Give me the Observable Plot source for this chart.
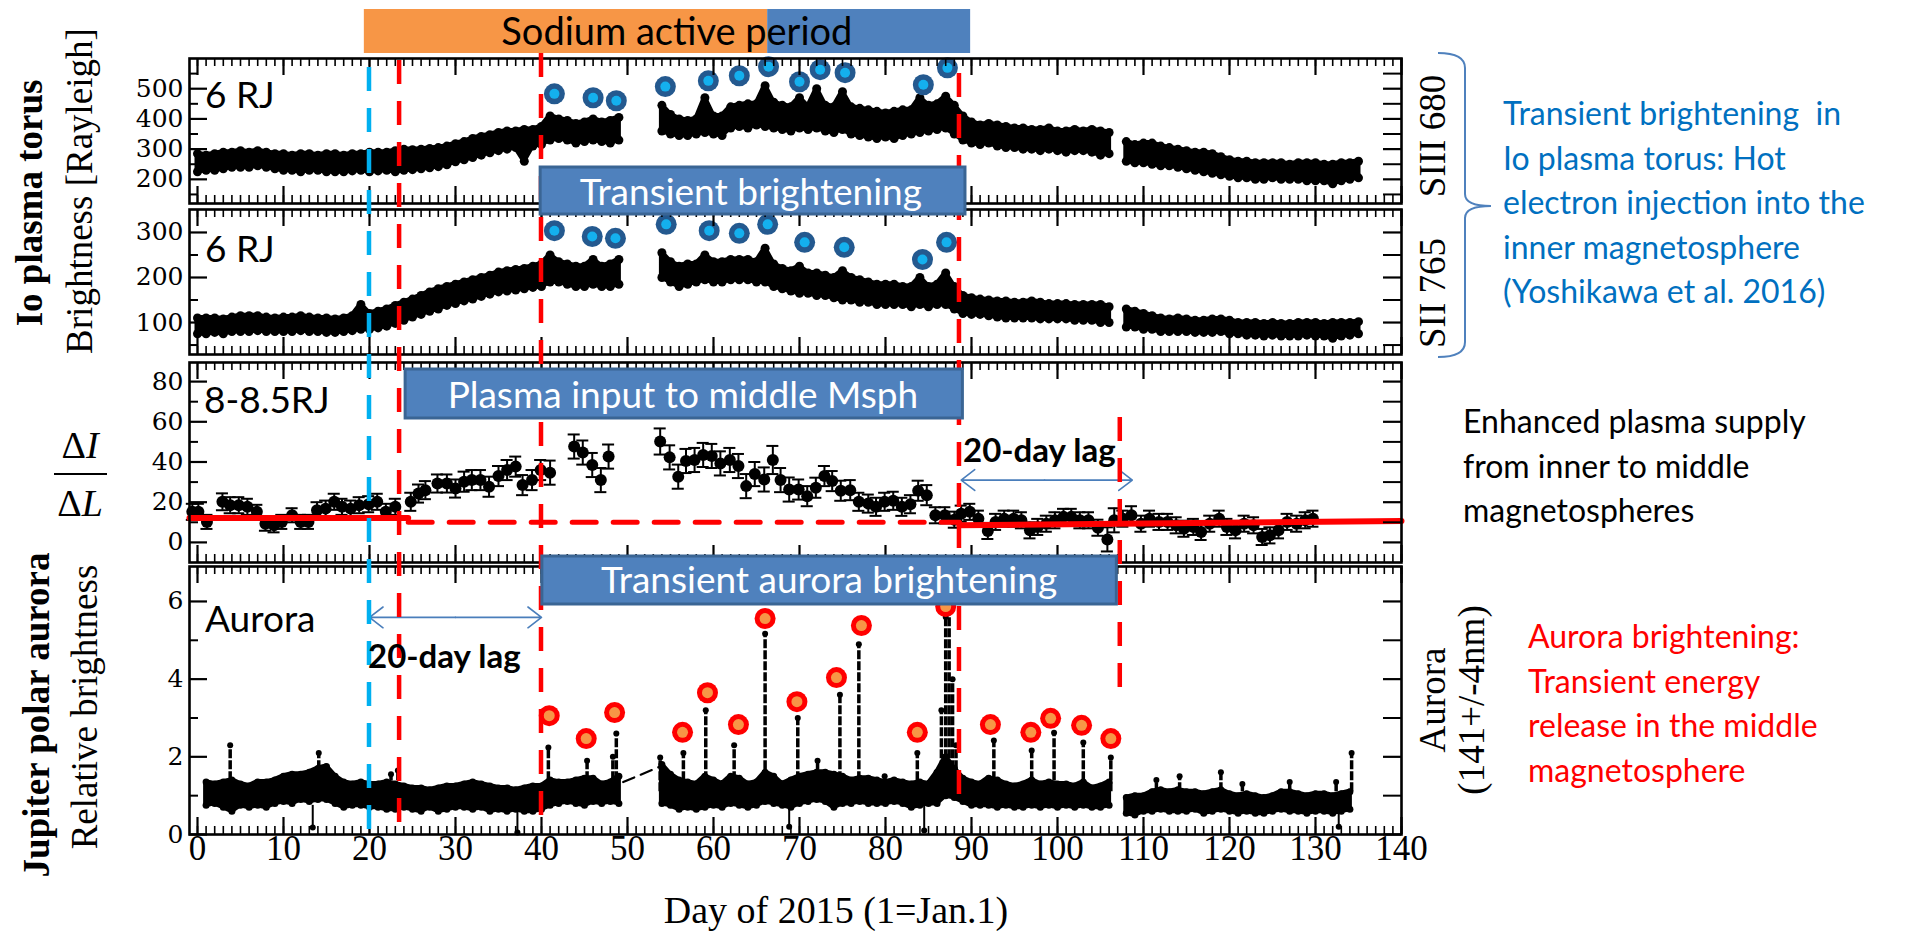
<!DOCTYPE html>
<html><head><meta charset="utf-8">
<script src="https://cdn.jsdelivr.net/npm/d3@7"></script>
<script src="https://cdn.jsdelivr.net/npm/@observablehq/plot@0.6"></script>
<style>
html,body{margin:0;padding:0;background:#fff;}
#root{position:relative;width:1917px;height:931px;overflow:hidden;background:#fff;}
#root svg{position:absolute;left:0;overflow:visible;}
</style></head><body><div id="root"></div>
<script>
// ---------------- DATA ----------------
// Panel 1: SIII 680 brightness envelope per day (day = index 0..135), null = no data
const p1Lo = [225,230,230,235,240,240,240,245,240,235, 230,230,225,230,230,225,225,225,228,230,
  225,228,230,225,230,232,235,238,242,248, 258,265,272,280,288,295,300,305,260,310,
  315,330,335,330,320,325,330,325,320,330, null,null,null,null, 360,350,345,345,350,355,
  350,345,370,375,370,380,375,370,365,360, 370,365,370,360,355,365,350,345,340,335,
  340,335,345,350,355,360,365,370,350,330, 320,315,320,310,305,305,300,300,295,300,
  295,290,295,295,290,280,285,null, 260,255,255,250,245,245,240,235,230,225,220,215,
  210,205,205,200,200,205,200,200,200,195, 195,195,185,195,200,205];
const p1Hi = [285,280,285,290,290,295,290,295,290,285, 285,280,285,285,280,285,285,280,285,285,
  290,290,290,295,300,298,300,302,305,310, 318,325,335,342,348,355,360,360,365,365,
  375,410,400,395,385,390,400,390,395,405, null,null,null,null, 445,415,400,395,400,470,
  410,410,440,445,450,450,510,455,445,440, 470,440,500,445,440,490,440,435,430,425,
  420,425,430,430,470,445,450,475,445,410, 390,380,385,380,375,370,370,365,365,370,
  360,360,365,360,365,360,355,null, 325,315,320,320,310,305,300,295,290,290,285,275,
  265,260,260,255,255,255,255,250,255,255, 255,250,250,255,255,260];
// Panel 2: SII 765
const p2Lo = [75,75,78,75,80,80,80,82,80,80, 80,80,82,80,80,78,78,80,82,85,
  85,88,92,98,105,112,118,125,130,138, 142,148,152,158,163,168,170,172,175,178,
  180,190,190,185,180,180,185,180,180,185, null,null,null,null, 200,190,180,185,190,195,
  190,190,195,195,195,190,190,180,175,170, 165,165,160,160,155,150,150,145,145,140,
  140,140,140,135,140,135,140,140,130,120, 118,118,115,112,110,110,110,110,108,108,
  108,108,105,105,105,100,100,null, 90,90,85,85,80,80,80,80,78,78,78,80,
  75,75,72,72,70,72,70,70,70,72, 70,70,65,70,72,75];
const p2Hi = [110,110,110,108,112,115,115,115,112,110, 112,112,115,112,110,110,108,110,115,140,
  120,125,130,138,145,152,160,168,175,180, 185,190,195,200,205,212,215,218,220,225,
  230,250,235,230,225,225,240,225,230,240, null,null,null,null, 255,235,225,230,230,250,
  235,235,240,240,240,235,265,230,220,215, 225,210,210,205,200,215,200,195,190,185,
  185,185,180,180,200,180,185,210,180,160, 155,152,150,148,148,145,145,148,145,142,
  142,142,140,140,140,140,135,null, 130,125,120,115,110,108,110,108,105,105,108,108,
  105,100,100,100,98,100,98,98,100,100, 100,98,100,100,100,102];
// Transient brightening markers
const mk1Day = [41.5,46.0,48.7,54.4,59.4,63.0,66.4,70.0,72.4,75.3,84.4,87.2];
const mk1Val = [483,470,460,507,526,543,573,523,563,553,513,569];
const mk2Day = [41.5,45.9,48.6,54.5,59.5,63.0,66.3,70.6,75.2,84.3,87.1];
const mk2Val = [304,291,287,318,304,298,318,278,267,240,278];
// Panel 3: |dI/dL| at 8-8.5 RJ with error bars
const p3Day = [-0.6,0.1,1.1,2.9,3.8,4.8,5.8,6.9,7.9,8.9,9.8,11.0,12.0,12.9,13.9,14.9,15.9,16.8,17.8,18.8,19.9,20.9,21.9,23.0,
  24.8,25.7,26.5,27.9,29.0,30.0,31.0,31.9,32.9,33.9,35.0,36.0,37.0,37.8,38.9,39.9,41.0,43.8,44.8,45.9,46.9,47.8,
  53.8,54.9,55.9,56.8,57.8,58.8,59.8,60.8,61.9,62.9,63.8,64.8,65.9,66.9,67.8,68.8,69.9,70.9,71.9,72.9,73.8,74.8,75.9,
  76.9,78.0,78.9,79.9,80.9,81.9,82.9,83.8,84.8,85.8,86.9,88.0,88.8,89.8,90.8,91.9,92.8,93.8,94.9,95.8,96.8,97.7,98.7,
  99.7,100.7,101.6,102.6,103.6,104.7,105.8,106.6,107.6,108.6,109.7,110.7,111.8,112.8,113.8,114.7,115.8,116.7,117.7,
  118.8,119.7,120.7,121.7,122.8,123.8,124.7,125.7,126.7,127.8,128.8,129.7];
const p3Val = [15.2,15.2,10.2,20.2,18.5,18.5,17.7,15.2,9.3,8.5,10.2,13.5,10.2,10.2,16.0,16.8,20.2,17.7,16.8,18.5,19.0,20.2,15.2,17.7,
  20.2,24.3,26.0,29.3,29.3,26.8,30.2,31.0,31.0,27.7,33.0,36.0,37.7,28.5,31.0,36.0,34.7,47.7,44.7,38.5,31.0,42.7,
  50.2,42.3,32.7,40.5,41.0,43.5,43.0,39.3,41.0,38.0,28.0,34.0,31.3,41.0,31.0,26.3,26.3,23.0,27.2,33.0,30.5,25.7,26.0,
  20.2,19.3,17.7,20.2,20.7,17.7,19.0,25.7,23.5,13.5,13.5,11.3,14.3,15.2,11.8,5.7,10.2,11.8,11.8,11.0,6.0,7.7,9.3,
  11.0,12.7,12.7,11.0,11.0,7.3,1.5,11.0,11.8,13.5,9.3,11.8,10.2,10.2,8.5,6.8,7.7,5.2,9.3,
  11.8,7.7,6.0,9.3,8.5,2.7,3.5,6.0,10.2,9.3,11.0,11.8];
const p3Err = [4,4,3.5,4.2,4,4,4,3.5,3.5,3.5,3.5,3.5,3.5,3.5,4,4,4,4,4,4,4,4,4,4,
  4.5,4.5,4.5,4.5,4.5,4.5,5,5,5,5,5,5,5,5,5,5,6,6,6,6,6,6,
  6.5,6,6,6,6,6,6,6,6,6,6,6,6,7,6,6,5,5,5,5,5,5,5,
  4.5,4.5,4.5,4.5,4.5,4.5,4.5,5,5,4,4,4,4,4,4,4,4,4,4,4,4,4,4,
  4,4,4,4,4,4,6,6,4,4.5,4,4,4,4,4,4,4,4,4,
  4,4,4,4,4,4,4,4,4,4,4,4];
// Red reference fits (day, value)
const fitA = [[-0.93,12.2],[24.5,12.2]];
const fitB = [[24.5,10],[88.6,10]];
const fitC = [[88.6,8.5],[140,10.7]];
// Panel 4: aurora relative brightness envelope per day (index = day 0..134)
const p4Lo = [null,0.75,0.8,0.7,0.6,0.75,0.7,0.75,0.7,0.8, 0.85,0.8,0.9,0.85,0.9,0.9,0.8,0.7,0.75,0.75,
  0.7,0.7,0.65,0.65,0.7,0.65,0.6,0.7,0.6,0.65, 0.7,0.7,0.65,0.7,0.6,0.65,0.6,0.65,0.6,0.6,
  0.65,0.75,0.8,0.85,0.8,0.75,0.85,0.8,0.85,0.8, null,null,null,null, 0.8,0.75,0.65,0.7,0.65,0.7,
  0.75,0.7,0.8,0.75,0.7,0.75,0.85,0.8,0.75,0.7, 0.8,0.85,0.9,0.85,0.7,0.8,0.8,0.85,0.8,0.8,
  0.8,0.85,0.8,0.7,0.75,0.8,0.8,1.0,0.95,0.85, 0.75,0.75,0.75,0.7,0.75,0.7,0.7,0.75,0.7,0.75,
  0.7,0.75,0.7,0.75,0.7,0.7,0.75,null, 0.55,0.5,0.6,0.6,0.65,0.6,0.6,0.6,0.65,0.55,0.6,0.65,
  0.6,0.55,0.6,0.55,0.55,0.6,0.65,0.6,0.6,0.55, 0.6,0.6,0.55,0.6,0.65];
const p4Hi = [null,1.35,1.3,1.35,1.4,1.3,1.25,1.35,1.35,1.4, 1.5,1.55,1.55,1.6,1.7,1.75,1.5,1.35,1.3,1.35,
  1.3,1.3,1.35,1.3,1.25,1.2,1.2,1.15,1.2,1.25, 1.25,1.3,1.35,1.3,1.25,1.2,1.2,1.15,1.2,1.25,
  1.25,1.4,1.35,1.35,1.4,1.45,1.45,1.3,1.35,1.5, null,null,null,null, 1.8,1.55,1.4,1.35,1.3,1.5,
  1.4,1.3,1.5,1.45,1.3,1.35,1.6,1.5,1.3,1.4, 1.5,1.55,1.6,1.6,1.55,1.5,1.4,1.45,1.45,1.4,
  1.35,1.4,1.35,1.3,1.35,1.3,1.6,2.0,1.7,1.45, 1.35,1.3,1.45,1.4,1.3,1.25,1.3,1.4,1.3,1.35,
  1.3,1.3,1.25,1.35,1.2,1.25,1.35,null, 0.95,1.0,1.0,1.1,1.15,1.1,1.15,1.1,1.1,1.05,1.1,1.15,
  1.05,1.0,1.05,1.0,0.95,1.0,1.1,1.1,1.05,1.0, 1.05,1.05,1.0,1.05,1.1];
const spikeDay  = [3.8,14.1,22.5,23.3,40.8,45.3,48.3,48.7,53.8,56.5,59.1,62.4,66.0,69.8,72.1,74.7,76.9,79.9,83.7,
  86.5,87.0,87.4,87.8,88.2,92.6,97.0,99.6,103.0,106.2,111.5,114.2,119.0,121.5,127.0,132.4,134.2];
const spikePeak = [2.3,2.1,1.55,1.65,2.24,1.9,2.0,2.6,1.98,2.1,3.2,2.3,5.17,3.0,1.9,3.6,4.9,1.5,2.1,
  3.2,5.6,5.8,4.0,2.3,2.42,2.16,2.62,2.37,1.98,1.4,1.5,1.6,1.3,1.35,1.35,2.1];
const dropDay = [13.4,37.2,68.8,84.5,132.7];
const dropVal = [0.18,0.05,0.2,0.1,0.2];
const gapLink = [[49.5,1.35],[53.8,1.75]];
const mk4Day = [40.9,45.2,48.5,56.4,59.3,62.9,66.0,69.7,74.3,77.2,83.7,87.0,92.2,96.9,99.2,102.8,106.2];
const mk4Val = [3.06,2.47,3.14,2.63,3.65,2.83,5.56,3.42,4.04,5.38,2.63,5.87,2.83,2.63,2.99,2.81,2.47];
// event days
const blueLineDay = 20;
const redLineDays = [23.5, 40, 88.6, 107.3];
const lag3 = {from: 88.8, mid: 98.5, to: 108.7, v: 31};
const lag4 = {from: 20, mid: 30, to: 40, v: 5.59};
const xTickLabels = [0,10,20,30,40,50,60,70,80,90,100,110,120,130,140];
const p1Ticks = [200,300,400,500], p1Minor = [150,250,350,450,550];
const p2Ticks = [100,200,300], p2Minor = [50,150,250];
const p3Ticks = [0,20,40,60,80], p3Minor = [10,30,50,70];
const p4Ticks = [0,2,4,6], p4Minor = [1,3,5];

// ---------------- BUILD ----------------
const root = document.getElementById("root");
const W = 1917, FL = 189, FR = 1401, FW = FR - FL;
const xDomain = [-0.93, 140];
const dayMinor = d3.range(0, 141), dayMajor = d3.range(0, 141, 10);
const envAll = (lo, hi) => lo.map((l, i) => ({day: i, lo: l == null ? NaN : l, hi: hi[i] == null ? NaN : hi[i]}));
const env = (lo, hi) => envAll(lo, hi).filter(d => !isNaN(d.lo));
const pts = (ds, vs) => ds.map((d, i) => ({day: d, v: vs[i]}));

function panel({top, bottom, yDomain, yMajor, yMinor, marks, bottomLabels}) {
  const H = bottom - top, mt = 20, mb = bottomLabels ? 60 : 20;
  const tk = {stroke: "#000"};
  const m = [
    ...marks,
    Plot.ruleX(dayMinor, {x: d => d, insetBottom: H - 8, ...tk, strokeWidth: 1.6}),
    Plot.ruleX(dayMajor, {x: d => d, insetBottom: H - 17, ...tk, strokeWidth: 2.2}),
    Plot.ruleX(dayMinor, {x: d => d, insetTop: H - 8, ...tk, strokeWidth: 1.6}),
    Plot.ruleX(dayMajor, {x: d => d, insetTop: H - 17, ...tk, strokeWidth: 2.2}),
    Plot.ruleY(yMinor, {y: d => d, insetRight: FW - 9, ...tk, strokeWidth: 2}),
    Plot.ruleY(yMajor, {y: d => d, insetRight: FW - 18, ...tk, strokeWidth: 2.2}),
    Plot.ruleY(yMinor, {y: d => d, insetLeft: FW - 18, ...tk, strokeWidth: 2}),
    Plot.ruleY(yMajor, {y: d => d, insetLeft: FW - 18, ...tk, strokeWidth: 2.2}),
    Plot.frame({stroke: "#000", strokeWidth: 2.6}),
    Plot.text(yMajor, {y: d => d, text: d => String(d), frameAnchor: "left", dx: -6, textAnchor: "end",
      fontSize: 25, fontFamily: "DejaVu Serif", fill: "#000"})
  ];
  if (bottomLabels) m.push(Plot.text(bottomLabels, {x: d => d, text: d => String(d), frameAnchor: "bottom",
      dy: 25, fontSize: 35, fontFamily: "Liberation Serif", fill: "#000"}));
  const plot = Plot.plot({
    width: W, height: H + mt + mb, marginLeft: FL, marginRight: W - FR, marginTop: mt, marginBottom: mb,
    x: {domain: xDomain, axis: null}, y: {domain: yDomain, axis: null},
    style: {background: "transparent", overflow: "visible", fontFamily: "Liberation Serif"},
    marks: m
  });
  plot.style.top = (top - mt) + "px";
  root.appendChild(plot);
  return plot;
}

// dense band: filled envelope + edge dots for a speckled look
const band = (lo, hi, dotR) => {
  const all = envAll(lo, hi), ok = env(lo, hi);
  return [
    Plot.areaY(all, {x: "day", y1: "lo", y2: "hi", fill: "#000", stroke: "#000", strokeWidth: 5, strokeLinejoin: "round"}),
    Plot.dot(ok, {x: "day", y: "lo", r: dotR, fill: "#000"}),
    Plot.dot(ok, {x: "day", y: "hi", r: dotR, fill: "#000"})
  ];
};
const blueMk = data => [Plot.dot(data, {x: "day", y: "v", r: 10.5, fill: "#24598F"}),
                        Plot.dot(data, {x: "day", y: "v", r: 5, fill: "#14B0EE"})];
const redMk = data => [Plot.dot(data, {x: "day", y: "v", r: 10.5, fill: "#FF0000"}),
                       Plot.dot(data, {x: "day", y: "v", r: 5.5, fill: "#F79646"})];
const lagArrows = (a) => Plot.arrow([{x1: a.mid, x2: a.from}, {x1: a.mid, x2: a.to}],
  {x1: "x1", x2: "x2", y1: () => a.v, y2: () => a.v, stroke: "#4A7EBB", strokeWidth: 1.6, headLength: 16, headAngle: 75});

panel({top: 58, bottom: 203, yDomain: [120, 600], yMajor: p1Ticks, yMinor: p1Minor,
  marks: [...band(p1Lo, p1Hi, 4.5), ...blueMk(pts(mk1Day, mk1Val))]});
panel({top: 209, bottom: 354, yDomain: [29, 351], yMajor: p2Ticks, yMinor: p2Minor,
  marks: [...band(p2Lo, p2Hi, 4.5), ...blueMk(pts(mk2Day, mk2Val))]});
const p3 = p3Day.map((d, i) => ({day: d, v: p3Val[i], e: p3Err[i]}));
panel({top: 362, bottom: 562, yDomain: [-10, 89.5], yMajor: p3Ticks, yMinor: p3Minor,
  marks: [
    Plot.ruleX(p3, {x: "day", y1: d => d.v - d.e, y2: d => d.v + d.e, stroke: "#000", strokeWidth: 2}),
    Plot.ruleY(p3, {y: d => d.v + d.e, x1: d => d.day - 0.7, x2: d => d.day + 0.7, stroke: "#000", strokeWidth: 2}),
    Plot.ruleY(p3, {y: d => d.v - d.e, x1: d => d.day - 0.7, x2: d => d.day + 0.7, stroke: "#000", strokeWidth: 2}),
    Plot.dot(p3, {x: "day", y: "v", r: 6, fill: "#000"}),
    Plot.line(fitA, {stroke: "#FF0000", strokeWidth: 6}),
    Plot.line(fitB, {stroke: "#FF0000", strokeWidth: 5, strokeDasharray: "24,17"}),
    Plot.line(fitC, {stroke: "#FF0000", strokeWidth: 6}),
    lagArrows(lag3)
  ]});
const spikes = spikeDay.map((d, i) => ({day: d, v: spikePeak[i]}));
const drops = dropDay.map((d, i) => ({day: d, v: dropVal[i]}));
const p4 = panel({top: 566, bottom: 834, yDomain: [0, 6.9], yMajor: p4Ticks, yMinor: p4Minor, bottomLabels: xTickLabels,
  marks: [
    ...band(p4Lo, p4Hi, 3.5),
    Plot.ruleX(spikes, {x: "day", y1: () => 1.1, y2: "v", stroke: "#000", strokeWidth: 3.5, strokeDasharray: "9,2"}),
    Plot.dot(spikes, {x: "day", y: "v", r: 3, fill: "#000"}),
    Plot.ruleX(drops, {x: "day", y1: () => 0.75, y2: "v", stroke: "#000", strokeWidth: 2}),
    Plot.dot(drops, {x: "day", y: "v", r: 3, fill: "#000"}),
    Plot.line(gapLink, {stroke: "#000", strokeWidth: 2.2, strokeDasharray: "12,7"}),
    lagArrows(lag4),
    ...redMk(pts(mk4Day, mk4Val))
  ]});

// ---------------- OVERLAY ANNOTATIONS ----------------
const xs = p4.scale("x");
const X = d => xs.apply(d);
const ov = d3.select(root).append("svg").attr("width", W).attr("height", 931).style("top", "0px");
const dash = "24,17";
ov.append("line").attr("x1", X(blueLineDay)).attr("x2", X(blueLineDay)).attr("y1", 67).attr("y2", 834)
  .attr("stroke", "#00B0F0").attr("stroke-width", 4.5).attr("stroke-dasharray", dash);
const redExt = [[60, 830], [53, 822], [73, 810], [417, 690]];
redLineDays.forEach((d, i) => ov.append("line").attr("x1", X(d)).attr("x2", X(d))
  .attr("y1", redExt[i][0]).attr("y2", redExt[i][1])
  .attr("stroke", "#FF0000").attr("stroke-width", 4.5).attr("stroke-dasharray", dash));

const LATO = "Lato, 'Open Sans', sans-serif", SERIF = "'Liberation Serif', 'Times New Roman', serif";
function text(x, y, s, o = {}) {
  const t = ov.append("text").attr("x", x).attr("y", y).text(s)
    .attr("font-family", o.family || LATO).attr("font-size", o.size || 32)
    .attr("fill", o.fill || "#000").attr("text-anchor", o.anchor || "start")
    .style("white-space", "pre");
  if (o.weight) t.attr("font-weight", o.weight);
  return t;
}
function rtext(x, y, s, o = {}) {
  const g = ov.append("g").attr("transform", `translate(${x},${y}) rotate(-90)`);
  const t = g.append("text").text(s).attr("text-anchor", "middle")
    .attr("font-family", o.family || SERIF).attr("font-size", o.size || 37).attr("fill", "#000");
  if (o.weight) t.attr("font-weight", o.weight);
  return t;
}
function box(d0, d1, y0, y1, label, cx, base) {
  ov.append("rect").attr("x", X(d0)).attr("y", y0).attr("width", X(d1) - X(d0)).attr("height", y1 - y0)
    .attr("fill", "#4F81BD").attr("stroke", "#3A6594").attr("stroke-width", 3);
  text(X(cx), base, label, {size: 37, fill: "#fff", anchor: "middle"});
}
// Sodium active period bar
ov.append("rect").attr("x", X(19.4)).attr("y", 9).attr("width", X(66.3) - X(19.4)).attr("height", 44).attr("fill", "#F79646");
ov.append("rect").attr("x", X(66.3)).attr("y", 9).attr("width", X(89.9) - X(66.3)).attr("height", 44).attr("fill", "#4F81BD");
text(X(55.8), 45, "Sodium active period", {size: 38, anchor: "middle"});
box(39.9, 89.3, 167, 214, "Transient brightening", 64.4, 205);
box(24.2, 89.0, 369, 418, "Plasma input to middle Msph", 56.5, 408);
box(40.1, 106.9, 556, 604, "Transient aurora brightening", 73.5, 593);

// in-panel labels
text(205, 108, "6 RJ", {size: 37});
text(205, 262, "6 RJ", {size: 37});
text(204, 413, "8-8.5RJ", {size: 37});
text(205, 632, "Aurora", {size: 37});
text(963, 462, "20-day lag", {size: 33, weight: 700});
text(368, 668, "20-day lag", {size: 33, weight: 700});

// left axis titles
rtext(42, 203, "Io plasma torus", {weight: 700});
rtext(92, 191, "Brightness [Rayleigh]");
rtext(49, 715, "Jupiter polar aurora", {weight: 700});
rtext(97, 707, "Relative brightness");
const fr = ov.append("text").attr("x", 80).attr("y", 458).attr("text-anchor", "middle")
  .attr("font-family", SERIF).attr("font-size", 38);
fr.append("tspan").text("Δ"); fr.append("tspan").attr("font-style", "italic").text("I");
ov.append("line").attr("x1", 54).attr("x2", 107).attr("y1", 474).attr("y2", 474).attr("stroke", "#000").attr("stroke-width", 2);
const fl = ov.append("text").attr("x", 80).attr("y", 516).attr("text-anchor", "middle")
  .attr("font-family", SERIF).attr("font-size", 38);
fl.append("tspan").text("Δ"); fl.append("tspan").attr("font-style", "italic").text("L");

// right axis titles
rtext(1445, 136, "SIII 680");
rtext(1445, 293, "SII 765");
rtext(1445, 700, "Aurora");
rtext(1484, 700, "(141+/-4nm)");
// x axis title
text(836, 923, "Day of 2015 (1=Jan.1)", {family: SERIF, size: 38, anchor: "middle"});

// brace
ov.append("path").attr("d", "M1438,53 Q1465,53 1465,68 L1465,194 Q1465,206 1491,206 Q1465,206 1465,218 L1465,342 Q1465,357 1438,357")
  .attr("fill", "none").attr("stroke", "#4F81BD").attr("stroke-width", 2);

// right side explanatory text
const blueLines = ["Transient brightening  in", "Io plasma torus: Hot", "electron injection into the", "inner magnetosphere", "(Yoshikawa et al. 2016)"];
blueLines.forEach((s, i) => text(1503, 125 + i * 44.5, s, {size: 32, fill: "#0070C0"}));
const blackLines = ["Enhanced plasma supply", "from inner to middle", "magnetospheres"];
blackLines.forEach((s, i) => text(1463, 433 + i * 44.5, s, {size: 32}));
const redLines = ["Aurora brightening:", "Transient energy", "release in the middle", "magnetosphere"];
redLines.forEach((s, i) => text(1528, 648 + i * 44.5, s, {size: 32, fill: "#FF0000"}));
</script></body></html>
